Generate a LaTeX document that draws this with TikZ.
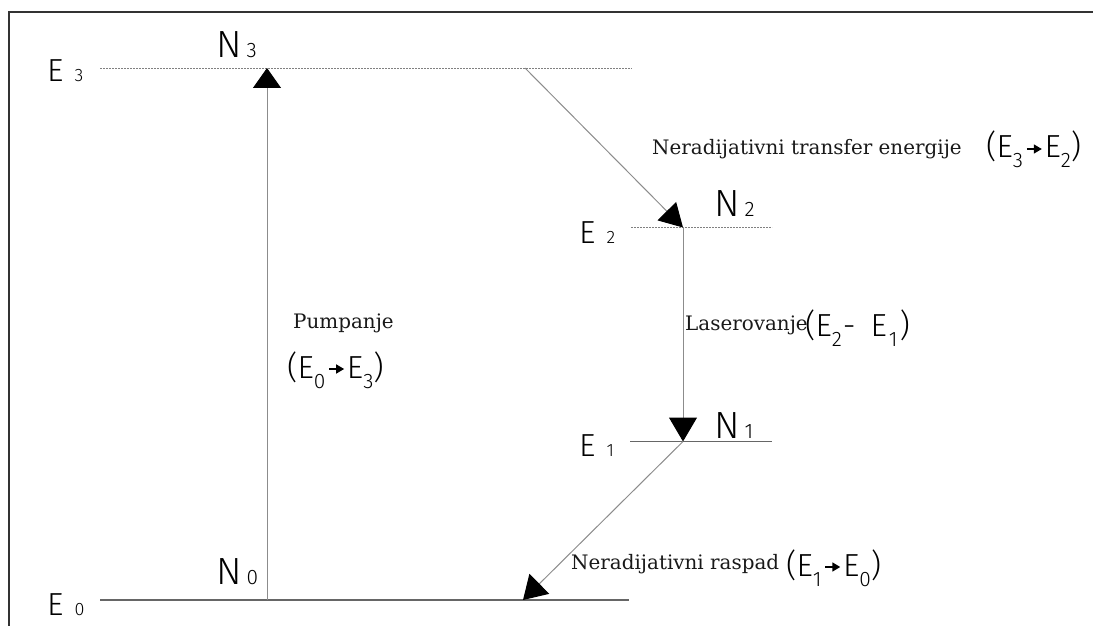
\documentclass[tikz,border=0pt]{standalone}
\usepackage{fontspec}
\setmainfont{DejaVu Serif}
\newfontfamily\thinsf{Fira Sans Light}
\usetikzlibrary{arrows.meta}
\newcommand\Elab[2]{{\thinsf\fontsize{32}{32}\selectfont #1\hspace{11bp}{\fontsize{18}{18}\selectfont #2}}}
\newcommand\Nlab[2]{{\thinsf\fontsize{38}{38}\selectfont #1\hspace{5bp}{\fontsize{21}{21}\selectfont #2}}}
\newcommand\Fsub[1]{\raisebox{-10bp}{\fontsize{21}{21}\selectfont #1}}
\newcommand\Farr{\tikz[baseline=0pt]\draw[line width=1.6bp,-{Triangle[length=8bp,width=9bp]}](0bp,9bp)--(15bp,9bp);}
\newcommand\Fml[2]{{\thinsf\fontsize{32}{32}\selectfont(E\Fsub{#1}\hspace{3bp}\Farr\hspace{2bp}E\Fsub{#2})}}
\begin{document}
\begin{tikzpicture}[x=1bp,y=-1bp,
  lvldot/.style={draw=black!50, line width=0.9bp, dash pattern=on 1.5bp off 1.5bp},
  lvlsolid/.style={draw=black!60, line width=1.2bp},
  trans/.style={draw=black!45, line width=1bp},
  lbl/.style={inner sep=0pt, anchor=base west},
  txt/.style={lbl, font=\fontsize{20}{24}\selectfont, text=black!90},
]
\useasboundingbox (0,0) rectangle (1093,626);
\draw[line width=1.5bp, black!80] (9,626) -- (9,12) -- (1093,12);

% energy levels
\coordinate (E3l) at (100,68);    \coordinate (E3r) at (632,68);
\coordinate (E2l) at (631,227.5); \coordinate (E2r) at (772,227.5);
\coordinate (E1l) at (630,441.5); \coordinate (E1r) at (772,441.5);
\coordinate (E0l) at (100,600);   \coordinate (E0r) at (629,600);
\draw[lvldot] (E3l) -- (E3r);
\draw[lvldot] (E2l) -- (E2r);
\draw[lvlsolid] (E1l) -- (E1r);
\draw[lvlsolid] (E0l) -- (E0r);

% transition points
\coordinate (pumpS) at (267,600); \coordinate (pumpE) at (267,68);
\coordinate (nrS) at (525,68);    \coordinate (nrE) at (683,227.5);
\coordinate (lasE) at (683,441.5);
\coordinate (rdE) at (523,600);
\draw[trans, -{Triangle[length=20bp,width=28bp,color=black]}] (pumpS) -- (pumpE);
\draw[trans, -{Triangle[length=23bp,width=26bp,color=black]}] (nrS) -- (nrE);
\draw[trans, -{Triangle[length=24bp,width=28bp,color=black]}] (nrE) -- (lasE);
\draw[trans, -{Triangle[length=23bp,width=28bp,color=black]}] (lasE) -- (rdE);

% level labels
\node[lbl] (lE3) at (47,82)   {\Elab{E}{3}};
\node[lbl] (lN3) at (216,58)  {\Nlab{N}{3}};
\node[lbl] (lE2) at (579,244) {\Elab{E}{2}};
\node[lbl] (lN2) at (714,217) {\Nlab{N}{2}};
\node[lbl] (lE1) at (579,456) {\Elab{E}{1}};
\node[lbl] (lN1) at (714,438) {\Nlab{N}{1}};
\node[lbl] (lE0) at (47,615)  {\Elab{E}{0}};
\node[lbl] (lN0) at (216,584) {\Nlab{N}{0}};

% process labels
\node[txt] (t32) at (652,155) {Neradijativni transfer energije};
\node[lbl] (f32) at (986,158) {\Fml{3}{2}};
\node[txt] (tp)  at (293,328) {Pumpanje};
\node[lbl] (f03) at (287,378) {\Fml{0}{3}};
\node[txt] (tl)  at (685,330) {Laserovanje};
\node[lbl] (f21) at (805,336) {\thinsf\fontsize{32}{32}\selectfont(E\Fsub{2}\hspace{1bp}-\hspace{15bp}E\hspace{2bp}\Fsub{1}\hspace{2bp})};
\node[txt] (tr)  at (571,569) {Neradijativni raspad};
\node[lbl] (f10) at (786,576) {\Fml{1}{0}};
\end{tikzpicture}
\end{document}
